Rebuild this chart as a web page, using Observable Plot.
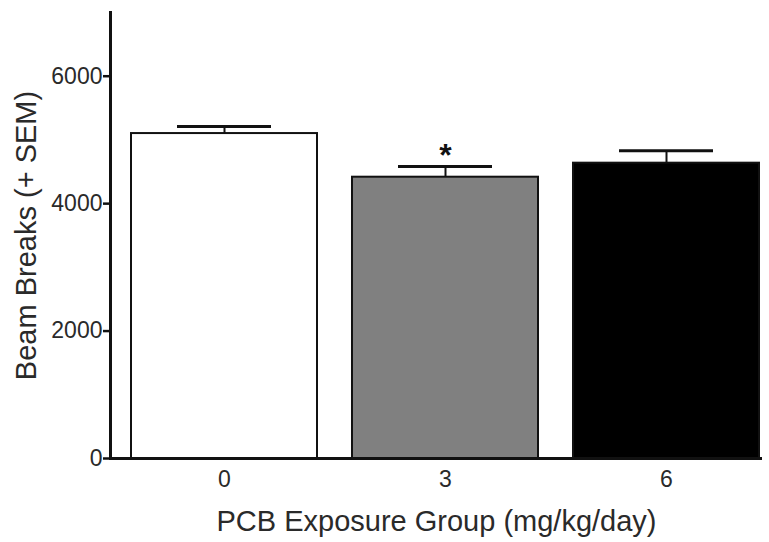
<!DOCTYPE html>
<html>
<head>
<meta charset="utf-8">
<script src="https://cdn.jsdelivr.net/npm/d3@7"></script>
<script src="https://cdn.jsdelivr.net/npm/@observablehq/plot@0.6"></script>
<style>
  body { margin: 0; background: #fff; }
  svg { font-family: "Liberation Sans", Arial, sans-serif; }
</style>
</head>
<body>
<div id="chart"></div>
<script>
const groups = ["0", "3", "6"];
const means = [5100, 4415, 4635];
const sems = [112, 168, 195];
const fills = ["#ffffff", "#808080", "#000000"];
const sigMarks = ["", "*", ""];
const yTicks = [0, 2000, 4000, 6000];

const data = groups.map((g, i) => ({group: g, mean: means[i], sem: sems[i], top: means[i] + sems[i], fill: fills[i], sig: sigMarks[i]}));

const chart = Plot.plot({
  width: 769,
  height: 542,
  marginLeft: 110,
  marginRight: 7,
  marginTop: 12,
  marginBottom: 84,
  style: {fontFamily: "Liberation Sans, Arial, sans-serif", color: "#2a2a2a", background: "#fff"},
  x: {domain: groups, paddingInner: 0.158, paddingOuter: 0.0475, align: 0.86},
  y: {domain: [0, 7000]},
  marks: [
    Plot.barY(data, {x: "group", y: "mean", fill: "fill", stroke: "#111", strokeWidth: 2}),
    Plot.ruleX(data, {x: "group", y1: "mean", y2: "top", stroke: "#111", strokeWidth: 2}),
    Plot.tickY(data, {x: "group", y: "top", stroke: "#111", strokeWidth: 3, insetLeft: 46, insetRight: 46}),
    Plot.text(data, {x: "group", y: "top", text: "sig", dy: -11, fontSize: 32, fontWeight: "bold", fill: "#111"}),
    Plot.ruleY([0], {stroke: "#111", strokeWidth: 3}),
    Plot.frame({anchor: "left", stroke: "#111", strokeWidth: 3}),
    Plot.axisY({ticks: yTicks, tickFormat: d => String(d), tickSize: 7, tickPadding: 1, fontSize: 23, strokeWidth: 2.5, stroke: "#111", label: null}),
    Plot.axisY({ticks: [], label: "Beam Breaks (+ SEM)", labelAnchor: "center", labelArrow: "none", labelOffset: 95, fontSize: 29}),
    Plot.axisX({tickSize: 0, tickPadding: 12, fontSize: 23, label: null}),
    Plot.axisX({ticks: [], label: "PCB Exposure Group (mg/kg/day)", labelAnchor: "center", labelArrow: "none", labelOffset: 72, fontSize: 29})
  ]
});
document.getElementById("chart").appendChild(chart);
</script>
</body>
</html>
